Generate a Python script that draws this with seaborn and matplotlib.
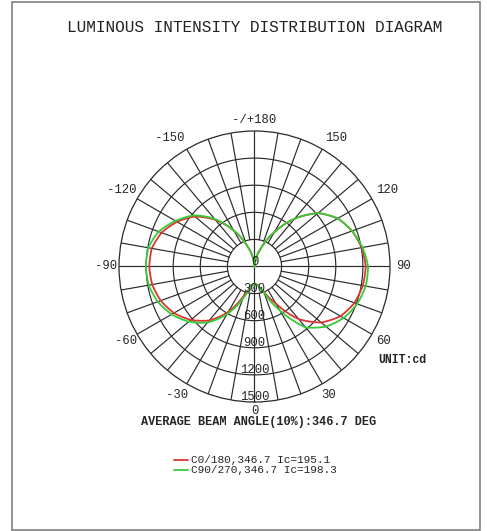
import numpy as np
import pandas as pd
import matplotlib
matplotlib.use('Agg')
import matplotlib.pyplot as plt
import matplotlib.transforms as mtransforms
from matplotlib.patches import Rectangle
import seaborn as sns

# gamma angles (deg from nadir) and intensities in cd
gamma = [0, 10, 20, 30, 40, 50, 60, 70, 80, 90, 100, 110, 120, 130, 140, 150, 160, 170, 180]
c0 = [195, 205, 290, 470, 760, 965, 1100, 1178, 1217, 1232, 1205, 1150, 1065, 920, 690, 438, 225, 90, 0]
c180 = [195, 210, 340, 580, 780, 920, 1030, 1105, 1150, 1165, 1155, 1095, 990, 860, 675, 460, 250, 95, 0]
c90 = [198, 205, 300, 560, 880, 1035, 1140, 1210, 1250, 1258, 1215, 1150, 1065, 920, 690, 438, 225, 90, 0]
c270 = [198, 215, 380, 610, 810, 950, 1060, 1140, 1190, 1202, 1195, 1130, 1010, 880, 690, 460, 250, 95, 0]

ring_values = [300, 600, 900, 1200, 1500]
ring_labels = ['0', '300', '600', '900', '1200', '1500']
angle_ticks = [0, 30, 60, 90, 120, 150, 180, -30, -60, -90, -120, -150]
angle_labels = ['0', '30', '60', '90', '120', '150', '-/+180', '-30', '-60', '-90', '-120', '-150']

plane_names = ['C0/180,346.7 Ic=195.1', 'C90/270,346.7 Ic=198.3']
colors = ['#dd3535', '#35cc35']


def build_curve(right, left, name):
    g = np.array(gamma, dtype=float)
    th = np.concatenate([-g[::-1], g[1:]])
    r = np.concatenate([np.array(left)[::-1], np.array(right)[1:]])
    return pd.DataFrame({'theta': np.deg2rad(th), 'cd': r, 'plane': name})


df = pd.concat([build_curve(c0, c180, plane_names[0]),
                build_curve(c90, c270, plane_names[1])], ignore_index=True)

sns.set_style('white')
plt.rcParams['font.family'] = ['Liberation Mono', 'DejaVu Sans Mono']

fig = plt.figure(figsize=(4.87, 5.31), dpi=100)
ax = fig.add_axes([0.24435, 0.24294, 0.55647, 0.51036], projection='polar')
ax.set_theta_zero_location('S')
ax.set_theta_direction(1)
ax.set_rlim(0, 1500)
ax.set_xticks([])
ax.set_yticks([])
ax.grid(False)
ax.spines['polar'].set_color('#2a2a2a')
ax.spines['polar'].set_linewidth(0.9)

grid_kw = dict(color='#2a2a2a', lw=0.85, zorder=1)
# grid: rings, spokes from the inner ring, and the two axes through the centre
full = np.linspace(0, 2 * np.pi, 361)
for rv in ring_values[:-1]:
    ax.plot(full, np.full_like(full, rv), **grid_kw)
for a in range(0, 360, 10):
    inner = 0 if a % 90 == 0 else ring_values[0]
    ax.plot([np.deg2rad(a)] * 2, [inner, 1500], **grid_kw)

n_before = len(ax.lines)
sns.lineplot(data=df, x='theta', y='cd', hue='plane', palette=colors, sort=False,
             estimator=None, lw=1.3, ax=ax, zorder=3)
# draw each segment along the polar grid instead of as a straight chord
for ln in ax.lines[n_before:]:
    ln.get_path()._interpolation_steps = 40
ax.set_xlabel('')
ax.set_ylabel('')
ax.set_rlim(0, 1500)

lab_tr = mtransforms.offset_copy(ax.transData, fig=fig, y=4.5, units='dots')
for v, s in zip([0] + ring_values, ring_labels):
    ax.text(0, v, s, transform=lab_tr, ha='center', va='center', fontsize=8.8, zorder=4)

# label placement (angle, radius) tweaks to sit where the original puts them
label_pos = {0: (0, 1595), 180: (180, 1620), 150: (147.5, 1690), -150: (-146.5, 1700),
             120: (120, 1690), -120: (-120, 1700), -30: (-31, 1660)}
for a, s in zip(angle_ticks, angle_labels):
    ang, rad = label_pos.get(a, (a, 1645))
    ax.text(np.deg2rad(ang), rad, s, ha='center', va='center', fontsize=8.8, clip_on=False)

leg = ax.legend(loc='center', bbox_to_anchor=(0.5246, 0.1235), bbox_transform=fig.transFigure,
                frameon=False, fontsize=8, handlelength=1.3, handletextpad=0.3,
                labelspacing=0.0, borderpad=0)

fig.text(0.5236, 0.9473, 'LUMINOUS INTENSITY DISTRIBUTION DIAGRAM', ha='center', va='center',
         fontsize=11.6, color='#222222')
fig.text(0.5308, 0.2058, 'AVERAGE BEAM ANGLE(10%):346.7 DEG', ha='center', va='center',
         fontsize=8.6, fontweight='bold')
fig.text(0.776, 0.322, 'UNIT:cd', ha='left', va='center', fontsize=8.3, fontweight='bold')

fig.patches.append(Rectangle((0.0246, 0.0019), 0.961, 0.9934, transform=fig.transFigure,
                             fill=False, edgecolor='#808080', lw=1.2))

fig.savefig('out.png', dpi=100)
